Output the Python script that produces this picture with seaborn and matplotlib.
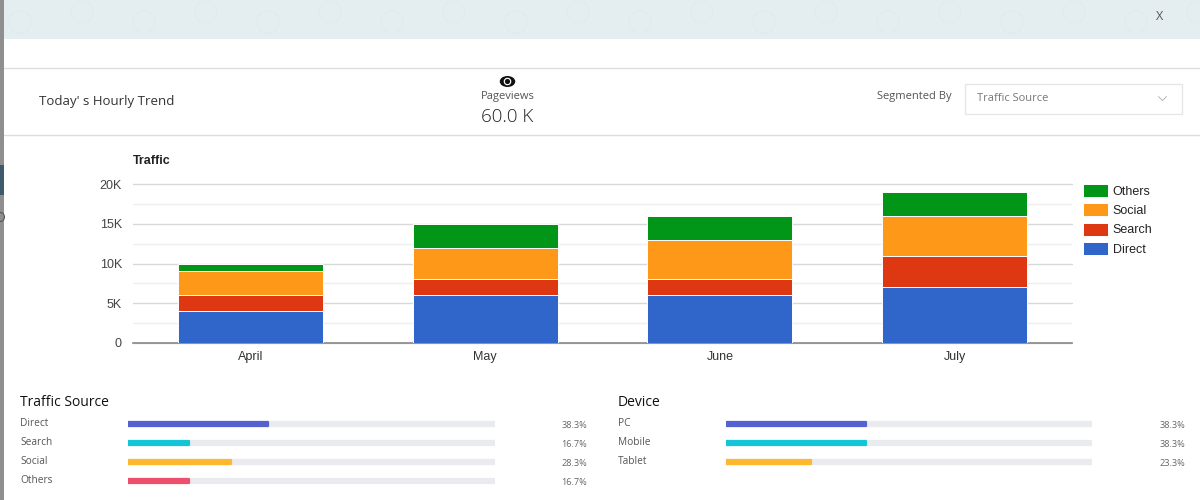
import matplotlib
matplotlib.use("Agg")
import matplotlib.pyplot as plt
import numpy as np
import pandas as pd
import seaborn as sns
from matplotlib.patches import Circle, Ellipse, Rectangle

months = ["April", "May", "June", "July"]
direct = [4000, 6000, 6000, 7000]
search = [2000, 2000, 2000, 4000]
social = [3000, 4000, 5000, 5000]
others = [1000, 3000, 3000, 3000]

series_names = ["Direct", "Search", "Social", "Others"]
series_colors = ["#3066c9", "#dd3812", "#fe9818", "#019617"]
y_ticks = [0, 5000, 10000, 15000, 20000]
y_labels = ["0", "5K", "10K", "15K", "20K"]

source_names = ["Direct", "Search", "Social", "Others"]
source_pct = [38.3, 16.7, 28.3, 16.7]
source_colors = ["#5461d1", "#14c5d8", "#fdb92e", "#ee4f6d"]
device_names = ["PC", "Mobile", "Tablet"]
device_pct = [38.3, 38.3, 23.3]
device_colors = ["#5461d1", "#14c5d8", "#fdb92e"]

W, H = 1200, 500
UI_FONT = "Open Sans"
CHART_FONT = "Liberation Sans"


def px_axes(fig, left, top, right, bottom):
    return fig.add_axes([left / W, 1 - bottom / H, (right - left) / W, (bottom - top) / H])


def progress_panel(fig, title, title_x, label_x, left, right, pct_x, names, pct, colors):
    bg.text(title_x, 402, title, fontsize=10, family=UI_FONT, fontweight="medium", color="#111111", va="center")
    top = 414.5
    row = 19
    ax = px_axes(fig, left, top, right, top + row * len(names))
    ax.patch.set_alpha(0)
    sns.barplot(x=[100] * len(names), y=names, color="#e9ebef", saturation=1, width=0.18,
                orient="h", ax=ax, errorbar=None)
    sns.barplot(x=pct, y=names, hue=names, palette=colors, saturation=1, width=0.2,
                orient="h", ax=ax, errorbar=None, legend=False)
    for bar in ax.patches:
        bar.set_edgecolor(bar.get_facecolor())
        bar.set_linewidth(1.6)
        bar.set_joinstyle("round")
    ax.set_xlim(0, 100)
    ax.axis("off")
    for i, name in enumerate(names):
        y = top + row * (i + 0.5)
        bg.text(label_x, y - 0.8, name, fontsize=7.3, family=UI_FONT, color="#555555", va="center")
        bg.text(pct_x, y + 1.5, f"{pct[i]:.1f}%", fontsize=6.6, family=UI_FONT, color="#666666",
                va="center", ha="right")


sns.set_theme(style="white")
plt.rcParams["font.family"] = [CHART_FONT, "DejaVu Sans"]

fig = plt.figure(figsize=(12, 5), dpi=100)

# page chrome, drawn in pixel coordinates
bg = fig.add_axes([0, 0, 1, 1])
bg.set_xlim(0, W)
bg.set_ylim(H, 0)
bg.axis("off")
bg.add_patch(Rectangle((0, 0), W, 39, color="#e4edf0", lw=0))
# faint wallpaper pattern behind the dialog
for cx in range(20, 1200, 62):
    bg.add_patch(Circle((cx, 22 if cx % 4 == 0 else 12), 11, facecolor="none", edgecolor="#e0e9ed", lw=0.6))
bg.add_patch(Rectangle((0, 0), 4, H, color="#8f8f8f", lw=0))
bg.add_patch(Rectangle((0, 165), 4, 30, color="#3f5a6b", lw=0))
bg.add_patch(Circle((0, 217), 4.5, facecolor="none", edgecolor="#555555", lw=0.8))
bg.plot([4, W], [68, 68], color="#dddddd", lw=1)
bg.plot([4, W], [135, 135], color="#dddddd", lw=1)

bg.text(1160, 16, "X", fontsize=9, family=UI_FONT, color="#555555", ha="center", va="center")
bg.text(39, 101, "Today' s Hourly Trend", fontsize=9.5, family=UI_FONT, color="#333333", va="center")
bg.text(507.5, 96.5, "Pageviews", fontsize=8, family=UI_FONT, color="#555555", ha="center", va="center")
bg.text(507.5, 116.5, "60.0 K", fontsize=13.5, family=UI_FONT, fontweight="light", color="#222222", ha="center", va="center")
bg.add_patch(Ellipse((507.5, 81.5), 15.5, 11, color="#111111", lw=0))
bg.add_patch(Circle((507.5, 81.5), 3.8, color="white", lw=0))
bg.add_patch(Circle((507.5, 81.5), 2.6, color="#111111", lw=0))

bg.text(914.5, 96, "Segmented By", fontsize=8, family=UI_FONT, color="#555555", ha="center", va="center")
bg.add_patch(Rectangle((964.5, 83.5), 217, 30, facecolor="white", edgecolor="#e6e6e6", lw=1))
bg.text(977, 98.5, "Traffic Source", fontsize=8, family=UI_FONT, color="#777777", va="center")
bg.plot([1158.5, 1162.5, 1166.5], [96.5, 100.5, 96.5], color="#aaaaaa", lw=0.6)

# stacked chart
ax = px_axes(fig, 133, 184.5, 1072, 342.5)
ax.patch.set_alpha(0)
bottom = np.zeros(len(months))
for name, values, color in zip(series_names, [direct, search, social, others], series_colors):
    sns.barplot(x=months, y=values, bottom=bottom, color=color, saturation=1, width=0.618,
                edgecolor="white", linewidth=0.7, errorbar=None, ax=ax, label=name, zorder=3)
    bottom = bottom + np.array(values)

ax.set_ylim(0, 20000)
ax.set_yticks(y_ticks)
ax.set_yticklabels(y_labels, fontsize=9, color="#444444")
ax.set_yticks([2500, 7500, 12500, 17500], minor=True)
ax.tick_params(axis="x", length=0, labelsize=9, labelcolor="#333333", pad=6)
ax.tick_params(axis="y", which="both", length=0, pad=8)
ax.grid(axis="y", which="major", color="#d8d8d8", lw=1, zorder=0)
ax.grid(axis="y", which="minor", color="#efefef", lw=1, zorder=0)
ax.set_axisbelow(True)
for line in ax.get_ygridlines():
    line.set_clip_on(False)
for side in ["top", "right", "left"]:
    ax.spines[side].set_visible(False)
ax.spines["bottom"].set_color("#888888")
ax.spines["bottom"].set_linewidth(1.2)
ax.set_xlabel("")
ax.set_ylabel("")
bg.text(133, 161, "Traffic", fontsize=9, fontweight="bold", color="#222222", va="center")

handles, labels = ax.get_legend_handles_labels()
ax.legend(handles[::-1], labels[::-1], loc="upper left", bbox_to_anchor=(1072 / W, 1 - 172.5 / H),
          bbox_transform=fig.transFigure, frameon=False, fontsize=9, handlelength=2.0,
          handleheight=1.25, handletextpad=0.35, labelspacing=0.45, labelcolor="#222222")

progress_panel(fig, "Traffic Source", 20, 20, 127.5, 494.5, 587, source_names, source_pct, source_colors)
progress_panel(fig, "Device", 618, 618, 725.5, 1092, 1185, device_names, device_pct, device_colors)

fig.savefig("out.png", dpi=100)
